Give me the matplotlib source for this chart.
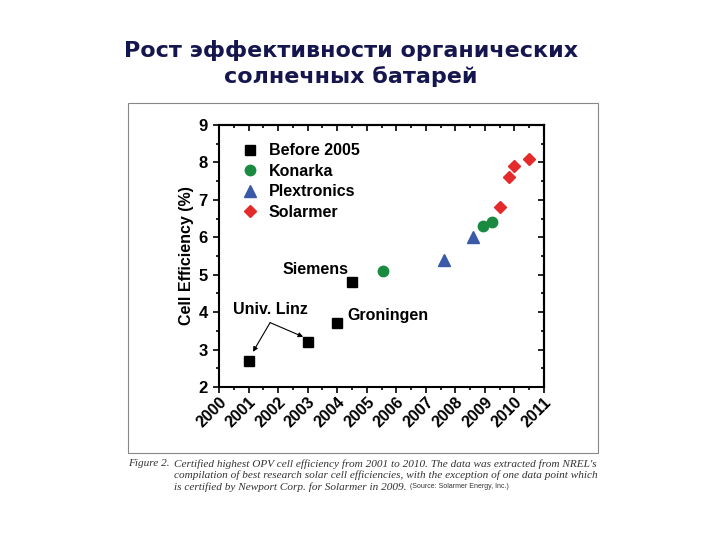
import numpy as np
import matplotlib.pyplot as plt
from matplotlib.patches import Rectangle
from matplotlib.ticker import MultipleLocator

# data
before_x = [2001.0, 2003.0, 2004.0, 2004.5]
before_y = [2.7, 3.2, 3.7, 4.8]
konarka_x = [2005.55, 2008.95, 2009.25]
konarka_y = [5.1, 6.3, 6.4]
plex_x = [2007.6, 2008.6]
plex_y = [5.4, 6.0]
solar_x = [2009.5, 2009.8, 2010.0, 2010.5]
solar_y = [6.8, 7.6, 7.9, 8.1]
year_ticks = list(range(2000, 2012))

fig = plt.figure(figsize=(7.2, 5.4), dpi=100)
fig.patch.set_facecolor('white')

# title of the slide
fig.text(0.487, 0.882, 'Рост эффективности органических\nсолнечных батарей',
         ha='center', va='center', fontsize=16, fontweight='bold',
         color='#16164e', family='DejaVu Sans', linespacing=1.32)

# frame round the figure image
fig.patches.append(Rectangle((128 / 720, 1 - 453 / 540), 470 / 720, 350 / 540,
                             transform=fig.transFigure, fill=False,
                             edgecolor='#888888', lw=0.8))

ax = fig.add_axes([219 / 720, 1 - 387 / 540, 325 / 720, 262 / 540])
font = 'Liberation Sans'

ax.plot(before_x, before_y, 's', color='black', ms=7, label='Before 2005')
ax.plot(konarka_x, konarka_y, 'o', color='#1a8a40', ms=7.5, label='Konarka')
ax.plot(plex_x, plex_y, '^', color='#3a5aa8', ms=8, label='Plextronics')
ax.plot(solar_x, solar_y, 'D', color='#e42a2a', ms=6.5, label='Solarmer')

ax.set_xlim(2000, 2011)
ax.set_ylim(2, 9)
ax.set_xticks(year_ticks)
ax.set_xticklabels([str(y) for y in year_ticks], rotation=45, ha='right',
                   rotation_mode='anchor', fontweight='bold', family=font, fontsize=11.5)
ax.xaxis.set_minor_locator(MultipleLocator(0.5))
ax.yaxis.set_minor_locator(MultipleLocator(0.5))
for lab in ax.get_yticklabels():
    lab.set_fontweight('bold')
    lab.set_family(font)
    lab.set_fontsize(12)
ax.tick_params(which='both', direction='out', width=1.2, top=False, right=False)
ax.tick_params(which='major', length=4.5)
ax.tick_params(which='minor', length=2.5)
ax.tick_params(axis='x', pad=1)
for s in ax.spines.values():
    s.set_linewidth(1.5)

# inward ticks on top and right
top = ax.secondary_xaxis('top')
top.set_xticks(year_ticks)
top.xaxis.set_minor_locator(MultipleLocator(0.5))
top.tick_params(which='both', direction='in', width=1.2, labeltop=False)
top.tick_params(which='major', length=4.5)
top.tick_params(which='minor', length=2.5)
right = ax.secondary_yaxis('right')
right.yaxis.set_minor_locator(MultipleLocator(0.5))
right.tick_params(which='both', direction='in', width=1.2, labelright=False)
right.tick_params(which='major', length=4.5)
right.tick_params(which='minor', length=2.5)
for sec in (top, right):
    for s in sec.spines.values():
        s.set_linewidth(1.5)

ax.set_ylabel('Cell Efficiency (%)', fontweight='bold', family=font, fontsize=11.5, labelpad=3)

ax.legend(loc='upper left', bbox_to_anchor=(0.05, 0.955), frameon=False,
          prop={'family': font, 'weight': 'bold', 'size': 11.5},
          handlelength=1.0, handletextpad=0.7, labelspacing=0.35, borderaxespad=0)

ax.text(2004.37, 5.13, 'Siemens', ha='right', va='center', fontweight='bold',
        family=font, fontsize=11.5)
ax.text(2004.33, 3.9, 'Groningen', ha='left', va='center', fontweight='bold',
        family=font, fontsize=11.5)
ax.text(2001.75, 4.07, 'Univ. Linz', ha='center', va='center', fontweight='bold',
        family=font, fontsize=11.5)
for hx, hy in [(2001.15, 2.94), (2002.85, 3.34)]:
    ax.annotate('', xy=(hx, hy), xytext=(2001.73, 3.72),
                arrowprops=dict(arrowstyle='-|>', color='black', lw=0.8,
                                mutation_scale=7, shrinkA=0, shrinkB=0))

# caption
cap_font = 'Liberation Serif'
cap_size = 8.1
fig.text(128 / 720, 1 - 464 / 540, 'Figure 2.', style='italic', family=cap_font,
         fontsize=cap_size, color='#333333', va='center')
fig.text(174 / 720, 1 - 464 / 540,
         "Certified highest OPV cell efficiency from 2001 to 2010. The data was extracted from NREL's",
         style='italic', family=cap_font, fontsize=cap_size, color='#333333', va='center')
fig.text(174 / 720, 1 - 475.5 / 540,
         'compilation of best research solar cell efficiencies, with the exception of one data point which',
         style='italic', family=cap_font, fontsize=cap_size, color='#333333', va='center')
t = fig.text(174 / 720, 1 - 487 / 540,
             'is certified by Newport Corp. for Solarmer in 2009.',
             style='italic', family=cap_font, fontsize=cap_size, color='#333333', va='center')
fig.canvas.draw()
ext = t.get_window_extent()
fig.text((ext.x1 + 4) / 720, 1 - 487 / 540, '(Source: Solarmer Energy, Inc.)',
         family='Liberation Sans', fontsize=5, color='#333333', va='center')

fig.savefig('out.png', dpi=100)
